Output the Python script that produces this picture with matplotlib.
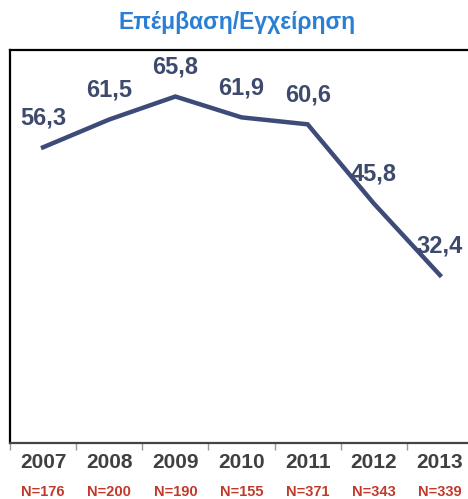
import matplotlib.pyplot as plt

# values
years = ["2007", "2008", "2009", "2010", "2011", "2012", "2013"]
values = [56.3, 61.5, 65.8, 61.9, 60.6, 45.8, 32.4]
counts = ["N=176", "N=200", "N=190", "N=155", "N=371", "N=343", "N=339"]

plt.rcParams["font.family"] = ["Liberation Sans", "DejaVu Sans"]

fig = plt.figure(figsize=(4.68, 4.99), dpi=100)
# plot box runs past the right edge of the picture, like the reference crop
ax = fig.add_axes([10 / 468, 56 / 499, 463 / 468, 393 / 499])

x = list(range(len(years)))
ax.plot(x, values, color="#3c4b78", linewidth=3.2, solid_joinstyle="miter")

for xi, v in zip(x, values):
    ax.annotate(f"{v:.1f}".replace(".", ","), (xi, v), xytext=(0, 21),
                textcoords="offset points", ha="center", va="center",
                fontsize=17, fontweight="bold", color="#3d4a6e")

ax.set_xlim(-0.5, len(years) - 0.5)
ax.set_ylim(1, 74.5)
ax.set_yticks([])
ax.set_xticks([i - 0.5 for i in range(len(years))])
ax.set_xticklabels([])
ax.tick_params(axis="x", length=5, width=1, color="#999999", direction="out")

for side in ax.spines.values():
    side.set_color("black")
    side.set_linewidth(1.6)
ax.spines["bottom"].set_color("#444444")
ax.spines["right"].set_visible(False)

# year labels and sample sizes under each category
for xi, yr, n in zip(x, years, counts):
    ax.text(xi, -0.05, yr, transform=ax.get_xaxis_transform(), ha="center",
            va="center", fontsize=15, fontweight="bold", color="#404040")
    ax.text(xi, -0.125, n, transform=ax.get_xaxis_transform(), ha="center",
            va="center", fontsize=10.5, fontweight="bold", color="#c0392b")

fig.text(237 / 468, 1 - 23 / 499, "Επέμβαση/Εγχείρηση", ha="center", va="center",
         fontsize=16.5, fontweight="bold", color="#2a7fd4")

fig.savefig("out.png", dpi=100)
